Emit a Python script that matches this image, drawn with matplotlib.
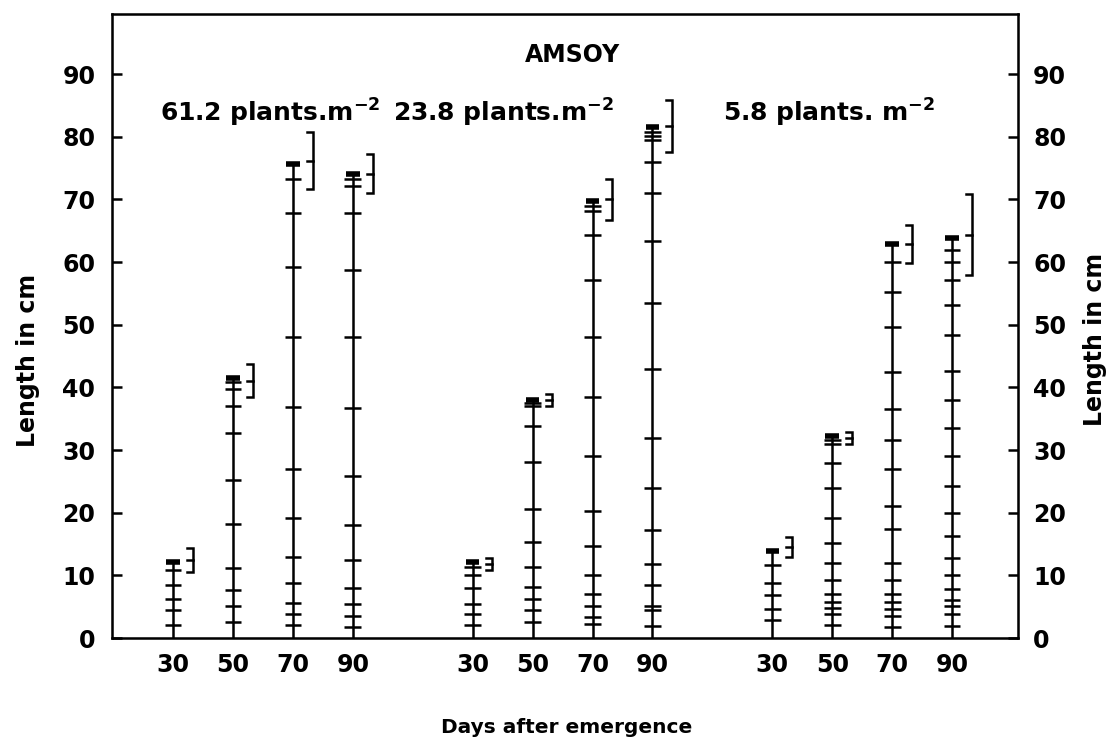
import matplotlib
matplotlib.use("Agg")
import matplotlib.pyplot as plt

# ── data (cm above ground of each node, per plant density and day) ──────────
days = [30, 50, 70, 90]
densities = ["61.2", "23.8", "5.8"]

nodes_612 = [
    [2.1, 4.4, 6.2, 8.4, 10.9, 12.2],
    [2.6, 5.1, 7.6, 11.1, 18.2, 25.2, 32.7, 37.1, 39.8, 40.8, 41.5],
    [2.0, 3.8, 5.6, 8.8, 13.0, 19.1, 27.0, 36.9, 48.0, 59.2, 67.9, 73.2, 75.7],
    [1.7, 3.5, 5.5, 8.0, 12.5, 18.1, 25.9, 36.7, 48.1, 58.8, 67.8, 72.1, 73.3, 74.0],
]
nodes_238 = [
    [2.0, 3.9, 5.5, 8.0, 10.0, 11.4, 12.2],
    [2.6, 4.5, 6.2, 8.2, 11.3, 15.4, 20.6, 28.1, 33.9, 37.0, 37.5, 38.0],
    [2.2, 3.3, 5.1, 7.0, 10.1, 14.7, 20.3, 29.0, 38.5, 48.0, 57.2, 64.4, 68.2, 68.9, 69.7],
    [1.9, 4.4, 5.1, 8.4, 11.8, 17.2, 24.0, 32.0, 43.0, 53.4, 63.4, 71.1, 76.0, 79.5,
     80.1, 80.8, 81.5],
]
nodes_58 = [
    [2.8, 4.7, 6.9, 8.8, 11.6, 13.9],
    [2.1, 3.8, 4.8, 5.8, 7.0, 9.2, 12.0, 15.2, 19.2, 23.9, 28.0, 30.9, 31.6, 32.3],
    [1.8, 3.5, 4.7, 5.7, 7.1, 9.2, 12.0, 17.4, 21.1, 26.9, 31.6, 36.5, 42.5, 49.6,
     55.2, 60.0, 62.9],
    [1.9, 3.8, 5.1, 6.1, 7.8, 10.0, 12.8, 16.3, 20.0, 24.3, 29.1, 33.5, 38.0, 42.6,
     48.3, 53.1, 57.1, 60.0, 62.0, 63.8],
]

# mean plant length and SD bracket, same order (density, then day)
mean_612 = [12.5, 41.1, 76.2, 74.1]
sd_612 = [1.9, 2.7, 4.5, 3.1]
mean_238 = [11.8, 38.0, 70.0, 81.7]
sd_238 = [1.0, 0.95, 3.3, 4.2]
mean_58 = [14.6, 31.9, 62.9, 64.4]
sd_58 = [1.6, 0.95, 3.05, 6.4]

yticks = [0, 10, 20, 30, 40, 50, 60, 70, 80, 90]

# ── figure ───────────────────────────────────────────────────────────────────
fig = plt.figure(figsize=(11.13, 7.45), dpi=100)
ax = fig.add_axes([0.1006, 0.1436, 0.8140, 0.8376])

LW = 1.8
TICK_HALF = 0.14
BR_OFF = 0.33
BR_ARM = 0.1

groups = [
    (nodes_612, mean_612, sd_612),
    (nodes_238, mean_238, sd_238),
    (nodes_58, mean_58, sd_58),
]

xpos, xlab = [], []
for g, (nodes, means, sds) in enumerate(groups):
    for i, day in enumerate(days):
        x = g * 5 + i
        xpos.append(x)
        xlab.append(str(day))
        h = nodes[i]
        ax.vlines(x, 0, max(h), color="black", lw=LW)
        ax.hlines(h[:-1], x - TICK_HALF, x + TICK_HALF, color="black", lw=LW)
        ax.hlines(h[-1], x - TICK_HALF * 0.8, x + TICK_HALF * 0.8,
                  color="black", lw=4)
        # SD bracket
        bx = x + BR_OFF
        lo, hi, m = means[i] - sds[i], means[i] + sds[i], means[i]
        ax.plot([bx - BR_ARM, bx, bx, bx - BR_ARM], [hi, hi, lo, lo],
                color="black", lw=LW, solid_joinstyle="miter")
        ax.plot([bx - BR_ARM, bx], [m, m], color="black", lw=LW)

ax.set_xlim(-1.02, 14.1)
ax.set_ylim(0, 99.6)

ax.set_xticks(xpos)
ax.set_xticklabels(xlab)
ax.tick_params(axis="x", length=0, pad=11, labelsize=17)
ax.set_yticks(yticks)
ax.tick_params(axis="y", direction="in", length=7, width=1.8, pad=12,
               labelsize=17)
for lab in ax.get_xticklabels() + ax.get_yticklabels():
    lab.set_fontweight("bold")

for sp in ax.spines.values():
    sp.set_linewidth(1.8)

ax2 = ax.twinx()
ax2.set_ylim(ax.get_ylim())
ax2.set_yticks(yticks)
ax2.tick_params(axis="y", direction="in", length=7, width=1.8, pad=11,
                labelsize=17)
for lab in ax2.get_yticklabels():
    lab.set_fontweight("bold")

ax.set_ylabel("Length in cm", fontsize=17, fontweight="bold")
ax.yaxis.set_label_coords(-0.079, 0.445)
ax2.set_ylabel("Length in cm", fontsize=17, fontweight="bold", rotation=90)
ax2.yaxis.set_label_coords(1.072, 0.478)
ax.set_xlabel("Days after emergence", fontsize=14.5, fontweight="bold")
ax.xaxis.set_label_coords(0.502, -0.128)

ax.text(0.508, 0.934, "AMSOY", transform=ax.transAxes, ha="center",
        va="center", fontsize=17, fontweight="bold")

dens_x = [0.053, 0.31, 0.674]
dens_fmt = ["{} plants.m", "{} plants.m", "{} plants. m"]
for d, xf, fmt in zip(densities, dens_x, dens_fmt):
    ax.text(xf, 0.827, fmt.format(d) + r"$^{\mathbf{-2}}$",
            transform=ax.transAxes, ha="left", va="baseline",
            fontsize=18, fontweight="bold")

fig.savefig("out.png", dpi=100, facecolor="white")
